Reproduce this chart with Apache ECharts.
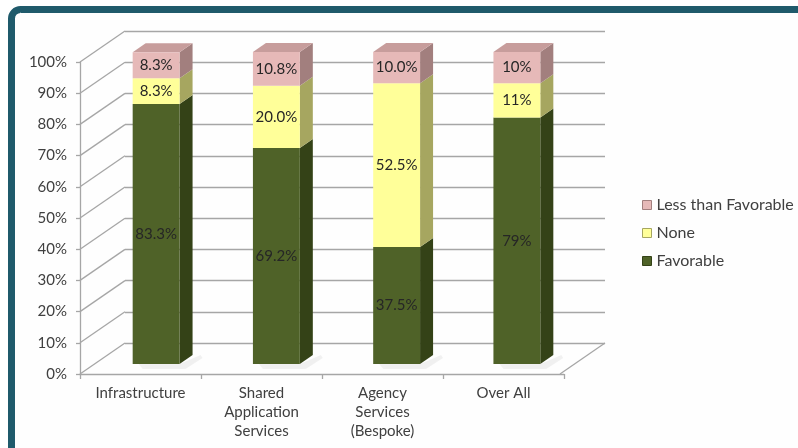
<!DOCTYPE html>
<html>
<head>
<meta charset="utf-8">
<script src="https://cdn.jsdelivr.net/npm/echarts@6/dist/echarts.min.js"></script>
<style>
  html, body { margin: 0; padding: 0; background: #ffffff; }
  #chart { width: 798px; height: 448px; }
</style>
</head>
<body>
<div id="chart"></div>
<script>
// Survey responses per service area (percent of respondents)
const categories = ['Infrastructure', 'Shared\nApplication\nServices', 'Agency\nServices\n(Bespoke)', 'Over All'];
const favorable = [83.3, 69.2, 37.5, 79];
const none = [8.3, 20.0, 52.5, 11];
const lessThanFavorable = [8.3, 10.8, 10.0, 10];
// decimals shown in each column's value labels
const labelDecimals = [1, 1, 1, 0];
const yTicks = [0, 10, 20, 30, 40, 50, 60, 70, 80, 90, 100];

// oblique projection of the 3D box: wall depth and column depth (pixels)
const WALL_DX = 45, WALL_DY = 31;
const BAR_DX = 13, BAR_DY = 9;
const BAR_RATIO = 0.39;

const stacks = [
  { name: 'Favorable', values: favorable, front: '#4f6228', side: '#344217', top: '#66803a' },
  { name: 'None', values: none, front: '#ffff99', side: '#a6a660', top: '#e6e68a' },
  { name: 'Less than Favorable', values: lessThanFavorable, front: '#e6b9b8', side: '#a27f7e', top: '#c79d9c' }
];

const FONT = 'Lato, "Open Sans", sans-serif';
const TEXT = '#404040';

// cumulative bases for the stacked columns
const bases = stacks.map((s, k) => categories.map((c, i) => {
  let b = 0;
  for (let j = 0; j < k; j++) b += stacks[j].values[i];
  return b;
}));

function columnSeries(s, k) {
  const isTop = k === stacks.length - 1;
  return {
    name: s.name,
    type: 'custom',
    xAxisIndex: 2,
    yAxisIndex: 2,
    itemStyle: { color: s.front },
    data: categories.map((c, i) => [i, bases[k][i], s.values[i]]),
    encode: { x: 0, y: 2 },
    z: 5 + k,
    renderItem: function (params, api) {
      const i = api.value(0), base = api.value(1), v = api.value(2);
      const p0 = api.coord([i, base]);
      const p1 = api.coord([i, base + v]);
      const hw = api.size([1, 0])[0] * BAR_RATIO / 2;
      const xl = p0[0] - hw, xr = p0[0] + hw;
      const children = [];
      if (k === 0) {
        // soft floor shadow
        children.push({
          type: 'polygon',
          shape: { points: [[xl + 6, p0[1]], [xr, p0[1]], [xr + BAR_DX + 8, p0[1] - BAR_DY], [xr + BAR_DX + 10, p0[1] - BAR_DY + 3], [xr + 6, p0[1] + 5], [xl + 10, p0[1] + 5]] },
          style: { fill: 'rgba(0,0,0,0.05)', shadowBlur: 6, shadowColor: 'rgba(0,0,0,0.12)' },
          silent: true
        });
      }
      children.push({
        type: 'polygon',
        shape: { points: [[xr, p1[1]], [xr + BAR_DX, p1[1] - BAR_DY], [xr + BAR_DX, p0[1] - BAR_DY], [xr, p0[1]]] },
        style: { fill: s.side }
      });
      if (isTop) {
        children.push({
          type: 'polygon',
          shape: { points: [[xl, p1[1]], [xr, p1[1]], [xr + BAR_DX, p1[1] - BAR_DY], [xl + BAR_DX, p1[1] - BAR_DY]] },
          style: { fill: s.top }
        });
      }
      children.push({
        type: 'rect',
        shape: { x: xl, y: p1[1], width: xr - xl, height: p0[1] - p1[1] },
        style: { fill: s.front }
      });
      children.push({
        type: 'text',
        x: p0[0],
        y: (p0[1] + p1[1]) / 2,
        style: {
          text: v.toFixed(labelDecimals[i]) + '%',
          fill: '#262626',
          font: '15px ' + FONT,
          align: 'center',
          verticalAlign: 'middle'
        }
      });
      return { type: 'group', children: children };
    }
  };
}

// side wall and floor edges joining the back wall to the front axes
const wallSeries = {
  type: 'custom',
  xAxisIndex: 1,
  yAxisIndex: 1,
  silent: true,
  z: 1,
  data: yTicks.map(v => [0, v]),
  encode: { x: 0, y: 1 },
  renderItem: function (params, api) {
    const v = api.value(1);
    const p = api.coord([0, v]);
    const bw = api.size([1, 0])[0];
    const xl = p[0] - bw / 2;
    const lineStyle = { stroke: '#a6a6a6', lineWidth: 1.3 };
    const children = [{
      type: 'line',
      shape: { x1: xl, y1: p[1], x2: xl - WALL_DX, y2: p[1] + WALL_DY },
      style: lineStyle
    }];
    if (v === 0) {
      const xr = xl + bw * categories.length;
      children.push({
        type: 'line',
        shape: { x1: xr, y1: p[1], x2: xr - WALL_DX, y2: p[1] + WALL_DY },
        style: lineStyle
      });
    }
    return { type: 'group', children: children };
  }
};

const hiddenCat = { type: 'category', data: categories, show: false };
const hiddenVal = { type: 'value', min: 0, max: 100, interval: 10, show: false };

const chart = echarts.init(document.getElementById('chart'), null, { renderer: 'canvas' });
chart.setOption({
  backgroundColor: '#ffffff',
  animation: false,
  graphic: [{
    type: 'rect',
    shape: { x: 11.5, y: 9.5, width: 900, height: 600, r: 9 },
    style: { fill: '#fefefe', stroke: '#1f5a6b', lineWidth: 7 },
    z: -10,
    silent: true
  }],
  legend: {
    orient: 'vertical',
    left: 637,
    top: 192,
    icon: 'rect',
    itemWidth: 9,
    itemHeight: 9,
    itemGap: 12,
    textStyle: { fontFamily: FONT, fontSize: 16, color: TEXT },
    data: [
      { name: 'Less than Favorable', itemStyle: { borderColor: '#a27f7e', borderWidth: 1 } },
      { name: 'None', itemStyle: { borderColor: '#a6a660', borderWidth: 1 } },
      { name: 'Favorable', itemStyle: { borderColor: '#344217', borderWidth: 1 } }
    ]
  },
  grid: [
    // front plane: axis lines, ticks and labels
    { left: 80, top: 62, width: 484, height: 312 },
    // back wall with gridlines
    { left: 125, top: 31, width: 480, height: 312 },
    // column face plane
    { left: 96, top: 52, width: 481, height: 312 }
  ],
  xAxis: [
    {
      type: 'category', gridIndex: 0, data: categories,
      axisLine: { show: true, lineStyle: { color: '#a6a6a6', width: 1.3 } },
      axisTick: { show: true, length: 5, interval: 0, lineStyle: { color: '#a6a6a6', width: 1.3 } },
      axisLabel: { interval: 0, margin: 10, fontFamily: FONT, fontSize: 15, lineHeight: 19, color: TEXT }
    },
    Object.assign({ gridIndex: 1 }, hiddenCat),
    Object.assign({ gridIndex: 2 }, hiddenCat)
  ],
  yAxis: [
    {
      type: 'value', gridIndex: 0, min: 0, max: 100, interval: 10,
      axisLine: { show: true, lineStyle: { color: '#a6a6a6', width: 1.3 } },
      axisTick: { show: true, length: 4, lineStyle: { color: '#a6a6a6', width: 1.3 } },
      splitLine: { show: false },
      axisLabel: { formatter: '{value}%', margin: 13, fontFamily: FONT, fontSize: 15, color: TEXT }
    },
    {
      type: 'value', gridIndex: 1, min: 0, max: 100, interval: 10,
      axisLine: { show: false }, axisTick: { show: false }, axisLabel: { show: false },
      splitLine: { show: true, lineStyle: { color: '#a6a6a6', width: 1.3 } }
    },
    Object.assign({ gridIndex: 2 }, hiddenVal)
  ],
  series: [wallSeries].concat(stacks.map(columnSeries))
});
</script>
</body>
</html>
